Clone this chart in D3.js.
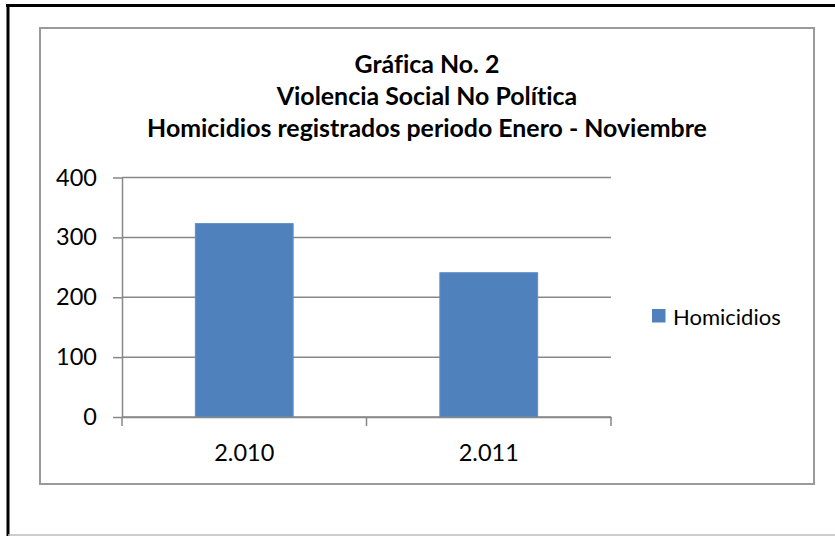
<!DOCTYPE html>
<html>
<head>
<meta charset="utf-8">
<script src="https://cdn.jsdelivr.net/npm/d3@7/dist/d3.min.js"></script>
<style>
  body { margin: 0; background: #fff; }
  svg { display: block; font-family: Lato, "Open Sans", sans-serif; font-variant-ligatures: none; }
</style>
</head>
<body>
<svg id="chart"></svg>
<script>
// Data
const categories = ["2.010", "2.011"]
const homicidios = [323, 241]
const seriesName = "Homicidios"
const yTicks = [0, 100, 200, 300, 400]
const titleLines = ["Gráfica No. 2", "Violencia Social No Política", "Homicidios registrados periodo Enero - Noviembre"]

let svgWidth = 835, svgHeight = 536
let plot = {left: 122, right: 611, top: 177.5, bottom: 417} // plot area inside chart box

let svg = d3.select("#chart")
    .attr("width", svgWidth)
    .attr("height", svgHeight)

// page frame: black top/left, light gray bottom
svg.append("line").attr("x1", 6).attr("x2", svgWidth).attr("y1", 5.5).attr("y2", 5.5)
    .attr("stroke", "#000").attr("stroke-width", 3)
svg.append("line").attr("x1", 8).attr("x2", 8).attr("y1", 4).attr("y2", svgHeight)
    .attr("stroke", "#000").attr("stroke-width", 3)
svg.append("line").attr("x1", 8).attr("x2", svgWidth).attr("y1", 535).attr("y2", 535)
    .attr("stroke", "#bdbdbd").attr("stroke-width", 1.5)

// chart box
svg.append("rect").attr("x", 40).attr("y", 28).attr("width", 774).attr("height", 456)
    .attr("fill", "#fff").attr("stroke", "#9a9a9a").attr("stroke-width", 2)

// title, sized to the width seen in the picture
let title = svg.append("g").attr("font-weight", "bold").attr("text-anchor", "middle").attr("fill", "#000")
let titleText = title.selectAll("text")
    .data(titleLines)
    .enter()
    .append("text")
    .attr("x", 427)
    .attr("y", (d, i) => 73 + i * 32)
    .attr("font-size", 26)
    .text(d => d)
let widest = d3.max(titleText.nodes(), n => n.getComputedTextLength())
titleText.attr("font-size", 26 * 560 / widest)

let xScale = d3.scaleBand()
    .domain(categories)
    .range([plot.left, plot.right])
    .paddingInner(0.6)
    .paddingOuter(0.3)

let yScale = d3.scaleLinear()
    .domain([0, 400])
    .range([plot.bottom, plot.top])

// gridlines
svg.append("g")
    .selectAll("line")
    .data(yTicks)
    .enter()
    .append("line")
    .attr("x1", plot.left).attr("x2", plot.right)
    .attr("y1", d => yScale(d)).attr("y2", d => yScale(d))
    .attr("stroke", "#878787").attr("stroke-width", 1.5)

// bars
svg.append("g")
    .selectAll("rect")
    .data(homicidios)
    .enter()
    .append("rect")
    .attr("x", (d, i) => xScale(categories[i]))
    .attr("y", d => yScale(d))
    .attr("width", xScale.bandwidth())
    .attr("height", d => yScale(0) - yScale(d))
    .attr("fill", "#4f81bd")
    .attr("stroke", "#5d8fcb")
    .attr("stroke-width", 1)

// y axis
let yAxis = d3.axisLeft(yScale)
    .tickValues(yTicks)
    .tickSizeInner(9)
    .tickSizeOuter(0)
    .tickPadding(16)
let yG = svg.append("g")
    .attr("transform", `translate(${plot.left}, 0)`)
    .call(yAxis)
yG.select(".domain").attr("stroke", "#878787").attr("stroke-width", 1.5)
yG.selectAll(".tick line").attr("stroke", "#878787").attr("stroke-width", 1.5)
yG.selectAll(".tick text").attr("font-size", 23.5).attr("fill", "#000").attr("font-family", "Lato, sans-serif")
yG.append("line").attr("x1", 0).attr("x2", 0).attr("y1", plot.bottom).attr("y2", plot.bottom + 9)
    .attr("stroke", "#878787").attr("stroke-width", 1.5)

// x axis: labels at band centers, ticks at band edges
let xAxis = d3.axisBottom(xScale)
    .tickSize(0)
    .tickPadding(27)
let xG = svg.append("g")
    .attr("transform", `translate(0, ${plot.bottom})`)
    .call(xAxis)
xG.select(".domain").attr("stroke", "#878787").attr("stroke-width", 1.5)
xG.selectAll(".tick text").attr("font-size", 23.5).attr("fill", "#000").attr("font-family", "Lato, sans-serif")
let step = xScale.step()
let edges = categories.map((c, i) => plot.left + step * (i + 1))
xG.selectAll(".edge")
    .data(edges)
    .enter()
    .append("line")
    .attr("x1", d => d).attr("x2", d => d)
    .attr("y1", 0).attr("y2", 9)
    .attr("stroke", "#878787").attr("stroke-width", 1.5)

// legend
let legend = svg.append("g").attr("transform", "translate(652, 309)")
legend.append("rect").attr("width", 13.5).attr("height", 13.5).attr("fill", "#4f81bd")
legend.append("text").attr("x", 21).attr("y", 15.5)
    .attr("font-size", 22).attr("fill", "#000")
    .text(seriesName)
</script>
</body>
</html>
